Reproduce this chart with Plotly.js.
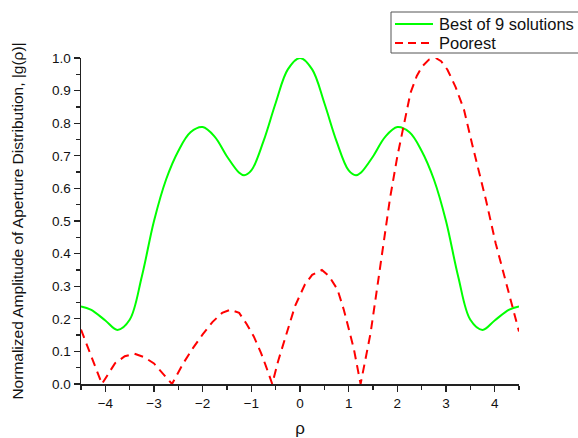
<!DOCTYPE html>
<html>
<head>
<meta charset="utf-8">
<script src="https://cdn.plot.ly/plotly-3.0.1.min.js"></script>
<style>html,body{margin:0;padding:0;background:#fff;}#chart{width:578px;height:438px;}</style>
</head>
<body>
<div id="chart"></div>
<script>
// Best of 9 solutions (green)
const bestX = [-4.5,-4.3,-4.0,-3.75,-3.5,-3.25,-3.0,-2.75,-2.5,-2.25,-2.0,-1.75,-1.5,-1.25,-1.15,-1.0,-0.75,-0.5,-0.25,0,
               0.25,0.5,0.75,1.0,1.15,1.25,1.5,1.75,2.0,2.25,2.5,2.75,3.0,3.25,3.5,3.75,4.0,4.3,4.5];
const bestY = [0.238,0.228,0.195,0.166,0.197,0.33,0.50,0.628,0.715,0.772,0.788,0.758,0.698,0.648,0.640,0.655,0.745,0.862,0.965,1.0,
               0.965,0.862,0.745,0.655,0.640,0.648,0.698,0.758,0.788,0.772,0.715,0.628,0.50,0.33,0.197,0.166,0.195,0.228,0.238];
// Poorest (red dashed)
const poorX = [-4.5,-4.3,-4.07,-3.8,-3.6,-3.4,-3.2,-3.0,-2.8,-2.63,-2.4,-2.2,-2.0,-1.8,-1.6,-1.43,-1.25,-1.1,-0.95,-0.8,-0.7,-0.57,
               -0.45,-0.3,-0.1,0.1,0.25,0.45,0.6,0.77,0.9,1.0,1.11,1.245,1.45,1.6,1.72,1.85,2.0,2.15,2.27,2.4,2.51,2.65,2.79,2.9,
               3.03,3.2,3.37,3.54,3.7,3.82,4.02,4.23,4.4,4.5];
const poorY = [0.167,0.09,0.0,0.064,0.085,0.093,0.082,0.063,0.03,0.0,0.063,0.11,0.152,0.19,0.218,0.228,0.218,0.185,0.146,0.095,0.055,0.0,
               0.07,0.14,0.24,0.305,0.335,0.35,0.33,0.29,0.228,0.17,0.105,0.0,0.156,0.31,0.432,0.57,0.698,0.81,0.893,0.945,0.974,0.995,1.0,0.99,
               0.964,0.91,0.841,0.734,0.64,0.565,0.432,0.31,0.22,0.161];
const seriesNames = ["Best of 9 solutions", "Poorest"];
const xTickVals = [-4,-3,-2,-1,0,1,2,3,4];
const yTickVals = [0,0.1,0.2,0.3,0.4,0.5,0.6,0.7,0.8,0.9,1.0];

const GREEN = '#00ff00', RED = '#ff0000', RED_DASH = '9px,6px';
const traces = [
  {x: bestX, y: bestY, name: seriesNames[0], mode: 'lines', type: 'scatter', showlegend: false,
   line: {color: GREEN, width: 2, shape: 'spline', smoothing: 1}},
  {x: poorX, y: poorY, name: seriesNames[1], mode: 'lines', type: 'scatter', showlegend: false,
   line: {color: RED, width: 2, dash: RED_DASH}}
];

// plot area geometry (px) for the hand-drawn legend box
const W = 578, H = 438, ML = 81, MR = 59, MT = 58, MB = 54;
const PW = W - ML - MR, PH = H - MT - MB;
const px2x = p => (p - ML) / PW;
const py2y = p => (H - MB - p) / PH;

const fontFam = 'Arial, "Liberation Sans", sans-serif';
const legFont = {family: fontFam, size: 16.5, color: '#111'};
const shapes = [
  {type: 'rect', xref: 'paper', yref: 'paper', x0: px2x(391), x1: px2x(590), y0: py2y(53), y1: py2y(12),
   line: {color: '#555', width: 1}, fillcolor: '#fff', layer: 'above'},
  {type: 'line', xref: 'paper', yref: 'paper', x0: px2x(395), x1: px2x(433), y0: py2y(24), y1: py2y(24),
   line: {color: GREEN, width: 2}, layer: 'above'},
  {type: 'line', xref: 'paper', yref: 'paper', x0: px2x(395), x1: px2x(433), y0: py2y(43), y1: py2y(43),
   line: {color: RED, width: 2, dash: '8px,5px'}, layer: 'above'}
];
const annotations = [
  {xref: 'paper', yref: 'paper', x: px2x(437), y: py2y(24), xanchor: 'left', yanchor: 'middle',
   text: seriesNames[0], showarrow: false, font: legFont},
  {xref: 'paper', yref: 'paper', x: px2x(437), y: py2y(43), xanchor: 'left', yanchor: 'middle',
   text: seriesNames[1], showarrow: false, font: legFont}
];

const layout = {
  width: W, height: H,
  margin: {l: ML, r: MR, t: MT, b: MB, pad: 0},
  paper_bgcolor: '#fff', plot_bgcolor: '#fff',
  font: {family: fontFam, color: '#111', size: 13.5},
  showlegend: false,
  shapes: shapes, annotations: annotations,
  xaxis: {range: [-4.5, 4.5], tickvals: xTickVals, ticks: 'outside', ticklen: 6, tickwidth: 1.3,
          tickcolor: '#222', showline: true, linecolor: '#222', linewidth: 1.5, showgrid: false,
          zeroline: false, mirror: false, tickfont: {size: 13.5},
          minor: {dtick: 0.5, tick0: 0, ticks: 'outside', ticklen: 4, tickwidth: 1.3, tickcolor: '#222', showgrid: false},
          title: {text: 'ρ', font: {size: 17}, standoff: 12}},
  yaxis: {range: [0, 1.0], tickvals: yTickVals, tickformat: '.1f', ticks: 'outside', ticklen: 6, tickwidth: 1.3,
          tickcolor: '#222', showline: true, linecolor: '#222', linewidth: 1.5, showgrid: false,
          zeroline: false, tickfont: {size: 13.5},
          minor: {dtick: 0.05, tick0: 0, ticks: 'outside', ticklen: 4, tickwidth: 1.3, tickcolor: '#222', showgrid: false},
          title: {text: 'Normalized Amplitude of Aperture Distribution, |g(ρ)|', font: {size: 15.5}, standoff: 24}}
};

Plotly.newPlot('chart', traces, layout, {displayModeBar: false, staticPlot: true});
</script>
</body>
</html>
